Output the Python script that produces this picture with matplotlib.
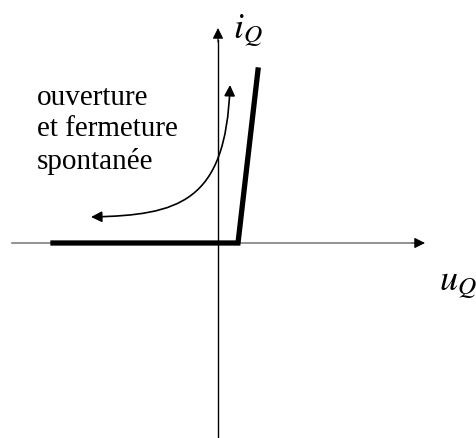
import matplotlib.pyplot as plt
from matplotlib.patches import FancyArrowPatch
from matplotlib.path import Path

# characteristic of the switch (u_Q, i_Q), origin at the axes crossing
u_char = [-165, 20, 40]
i_char = [0, 0, 173]

# axes extents
u_axis = [-206, 207]
i_axis = [-194, 215]

# curved arrow "ouverture et fermeture spontanee" (cubic bezier)
arc_u = [-127, -40, 8, 12]
arc_i = [26, 28, 40, 158]

label_text = "ouverture\net fermeture\nspontanée"

fig = plt.figure(figsize=(4.77, 4.38), dpi=100)
ax = fig.add_axes([0, 0, 1, 1])
ax.set_xlim(-218, 259)
ax.set_ylim(-195, 243)
ax.axis('off')

# horizontal axis
ax.plot([u_axis[0], u_axis[1] - 12], [0, 0], color='#808080', lw=1.2)
ax.add_patch(FancyArrowPatch((u_axis[1] - 14, 0), (u_axis[1], 0),
                             arrowstyle='-|>', mutation_scale=16,
                             shrinkA=0, shrinkB=0, color='black', lw=0.8))
# vertical axis
ax.plot([0, 0], [i_axis[0], i_axis[1] - 12], color='black', lw=1.0)
ax.add_patch(FancyArrowPatch((0, i_axis[1] - 14), (0, i_axis[1]),
                             arrowstyle='-|>', mutation_scale=16,
                             shrinkA=0, shrinkB=0, color='black', lw=0.8))

# thick characteristic
ax.plot(u_char, i_char, color='black', lw=3.8, solid_joinstyle='miter')

# curved double arrow
arc = Path(list(zip(arc_u, arc_i)),
           [Path.MOVETO, Path.CURVE4, Path.CURVE4, Path.CURVE4])
ax.add_patch(FancyArrowPatch(path=arc, arrowstyle='<|-|>', mutation_scale=16,
                             shrinkA=0, shrinkB=0, color='black', lw=1.2))

ax.text(-181, 158, label_text, fontsize=21, family='Liberation Serif',
        ha='left', va='top', linespacing=1.27)

ax.text(15, 212, r'$i_Q$', fontsize=26, ha='left', va='center',
        math_fontfamily='stix')
ax.text(221, -41, r'$u_Q$', fontsize=26, ha='left', va='center',
        math_fontfamily='stix')

fig.savefig('out.png', dpi=100)
